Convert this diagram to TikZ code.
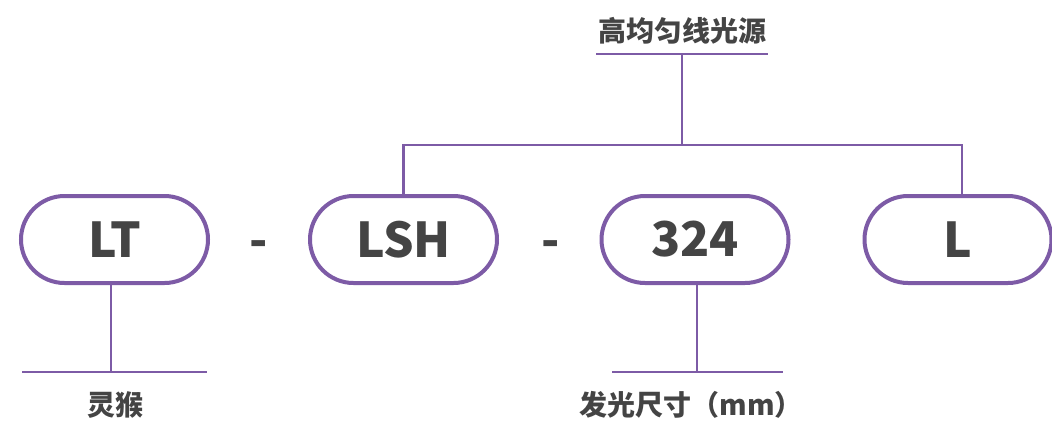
\documentclass[tikz,border=0pt]{standalone}
\usepackage{fontspec}
\setmainfont{Noto Sans CJK SC}
\usepackage{tikz}
\usetikzlibrary{shapes.misc,calc}
\definecolor{lilac}{HTML}{7D5BA6}
\definecolor{ink}{HTML}{444444}

\begin{document}
\begin{tikzpicture}[x=1pt, y=-1pt,
    code/.style={draw=lilac, line width=4pt, rounded rectangle, minimum width=187pt, minimum height=87pt, inner sep=0pt, font=\fontsize{48}{50}\selectfont\bfseries, text=ink},
    sep/.style={font=\fontsize{48}{50}\selectfont\bfseries, text=ink, inner sep=0pt},
    note/.style={font=\fontsize{28}{30}\selectfont\bfseries, text=ink, inner sep=0pt},
    link/.style={draw=lilac, line width=2.4pt}
]
\useasboundingbox (0,0) rectangle (1052,421);

\node[code] (lt) at (114.5,239.5) {LT};
\node[sep] (d1) at (259,249) {-};
\node[code] (lsh) at (403.5,239.5) {LSH};
\node[sep] (d2) at (551,249) {-};
\node[code] (num) at (695,239.5) {324};
\node[code] (l) at (958,239.5) {L};

\node[note] (src) at (682,31) {高均匀线光源};
\node[note] (brand) at (115,405) {灵猴};
\node[note] (size) at (691,405) {发光尺寸（mm）};

% top branch
\draw[link] (596,54) -- (768,54);
\draw[link] (682,54) -- (682,145);
\draw[link] (lsh.north) |- (962,145) -- ($(l.north)+(4,0)$);

% bottom branches
\draw[link] ($(lt.south)+(-3.8,0)$) -- ++(0,87);
\draw[link] (22,372) -- (207,372);
\draw[link] ($(num.south)+(2,0)$) -- ++(0,87);
\draw[link] (612,372) -- (783,372);
\end{tikzpicture}
\end{document}
